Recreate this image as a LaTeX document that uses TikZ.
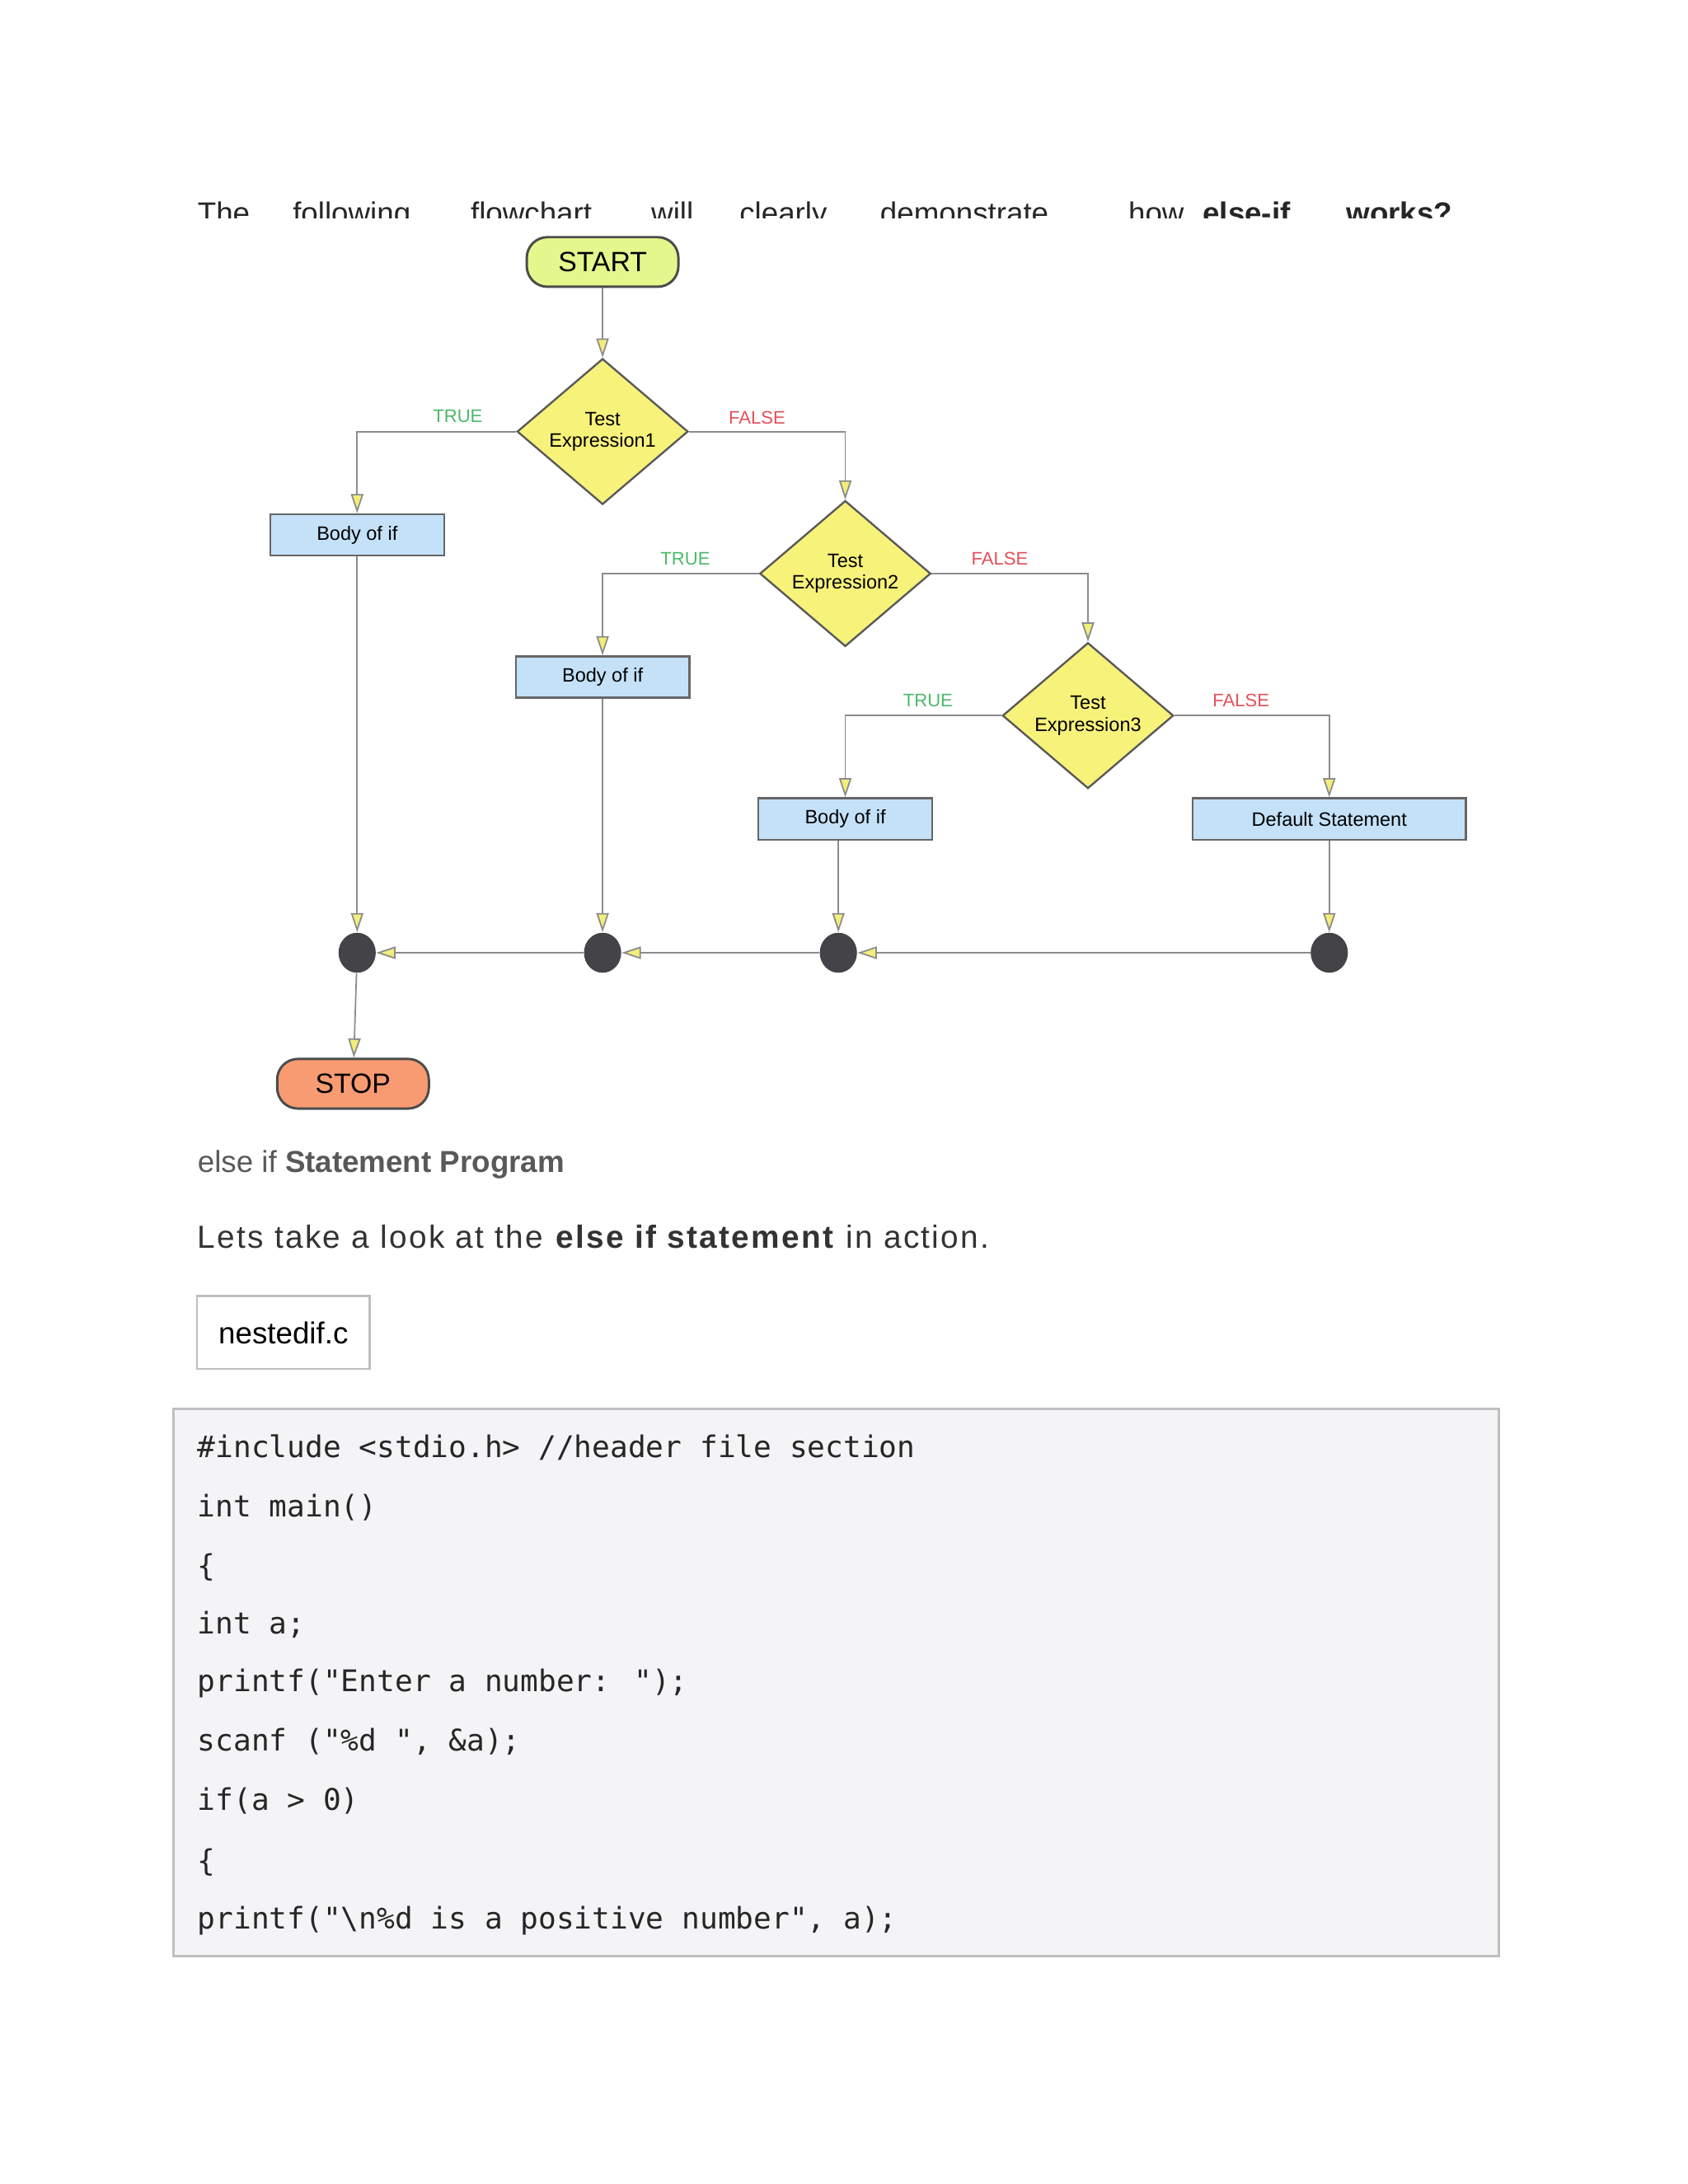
\documentclass[tikz,border=0pt]{standalone}
\usepackage{fontspec}
\setmainfont{Liberation Sans}
\newfontfamily\codefont{DejaVu Sans Mono}
\usetikzlibrary{shapes.geometric,arrows.meta}
\definecolor{arrY}{HTML}{F2EE7A}
\definecolor{lineG}{HTML}{8C8C8C}
\definecolor{startF}{HTML}{E4F78C}
\definecolor{diaF}{HTML}{F7F27A}
\definecolor{bodyF}{HTML}{C4E1F8}
\definecolor{stopF}{HTML}{F99B72}
\definecolor{dotF}{HTML}{444448}
\definecolor{trueC}{HTML}{4DB86A}
\definecolor{falseC}{HTML}{E2505A}
\definecolor{codeBg}{HTML}{F4F4F6}
\begin{document}
\begin{tikzpicture}[x=0.02cm,y=-0.02cm,
  conn/.style={draw=lineG,line width=0.6pt,-{Triangle[length=0.28cm,width=0.18cm,fill=arrY]}},
  term/.style={draw=black!70,line width=1pt,rounded corners=0.3cm,minimum width=2.2cm,minimum height=0.72cm,font=\fontsize{11.5}{12}\selectfont},
  dia/.style={diamond,draw=black!65,fill=diaF,line width=0.8pt,minimum width=2.48cm,minimum height=1.72cm,inner sep=0pt,align=center,font=\fontsize{8}{9}\selectfont},
  body/.style={draw=black!60,fill=bodyF,line width=0.8pt,minimum width=2.52cm,minimum height=0.6cm,inner sep=0pt,font=\fontsize{8}{9}\selectfont},
  dot/.style={ellipse,fill=dotF,minimum width=0.54cm,minimum height=0.58cm,inner sep=0pt},
  tl/.style={text=trueC,font=\fontsize{7.5}{8}\selectfont},
  fl/.style={text=falseC,font=\fontsize{7.5}{8}\selectfont},
  top/.style={anchor=base west,inner sep=0pt,font=\fontsize{12.5}{13}\selectfont,text=black!85},
  cl/.style={anchor=base west,inner sep=0pt,font=\codefont\fontsize{12.3}{13}\selectfont,text=black!85}]
\useasboundingbox (0,0) rectangle (1224,1584);
\fill[white] (0,0) rectangle (1224,1584);
% top clipped line
\begin{scope}
\clip (100,120) rectangle (1100,158);
\node[top] (w1) at (143,162) {The};
\node[top] (w2) at (212,162) {following};
\node[top] (w3) at (341,162) {flowchart};
\node[top] (w4) at (472,162) {will};
\node[top] (w5) at (536,162) {clearly};
\node[top] (w6) at (638,162) {demonstrate};
\node[top] (w7) at (818,162) {how};
\node[top,font=\fontsize{12.5}{13}\selectfont\bfseries] (w8) at (872,162) {else-if};
\node[top,font=\fontsize{12.5}{13}\selectfont\bfseries] (w9) at (976,162) {works?};
\end{scope}
% flowchart
\node[term,fill=startF] (start) at (437,190) {START};
\node[dia] (d1) at (437,313) {Test\\Expression1};
\node[dia] (d2) at (613,416) {Test\\Expression2};
\node[dia] (d3) at (789,519) {Test\\Expression3};
\node[body] (b1) at (259,388) {Body of if};
\node[body] (b2) at (437,491) {Body of if};
\node[body] (b3) at (613,594) {Body of if};
\node[body,minimum width=3.96cm] (b4) at (964,594) {Default Statement};
\node[dot] (p1) at (259,691) {};
\node[dot] (p2) at (437,691) {};
\node[dot] (p3) at (608,691) {};
\node[dot] (p4) at (964,691) {};
\node[term,fill=stopF] (stop) at (256,786) {STOP};
\node[tl] (t1) at (332,302) {TRUE};
\node[fl] (f1) at (549,303) {FALSE};
\node[tl] (t2) at (497,405) {TRUE};
\node[fl] (f2) at (725,405) {FALSE};
\node[tl] (t3) at (673,508) {TRUE};
\node[fl] (f3) at (900,508) {FALSE};
\draw[conn] (start) -- (d1);
\draw[conn] (d1.west) -| (b1.north);
\draw[conn] (d1.east) -| (d2.north);
\draw[conn] (d2.west) -| (b2.north);
\draw[conn] (d2.east) -| (d3.north);
\draw[conn] (d3.west) -| (b3.north);
\draw[conn] (d3.east) -| (b4.north);
\draw[conn] (b1) -- (p1);
\draw[conn] (b2) -- (p2);
\draw[conn] (b3.south -| p3) -- (p3);
\draw[conn] (b4) -- (p4);
\draw[conn] (p4) -- (p3);
\draw[conn] (p3) -- (p2);
\draw[conn] (p2) -- (p1);
\draw[conn] (p1) -- (stop);
% text below
\node[anchor=base west,inner sep=0pt,text=black!65,font=\fontsize{12.5}{13}\selectfont] (h1) at (143,850) {else if \textbf{Statement Program}};
\node[anchor=base west,inner sep=0pt,text=black!80,font=\fontsize{13.2}{14}\selectfont\addfontfeature{LetterSpace=6}] (h2) at (143,905) {Lets take a look at the \textbf{else if statement} in action.};
\node[draw=black!25,line width=0.8pt,minimum width=2.5cm,minimum height=1.06cm,inner sep=0pt,font=\fontsize{12.5}{13}\selectfont] (fn) at (205.5,966.5) {nestedif.c};
\node[draw=black!25,fill=codeBg,line width=1pt,minimum width=19.22cm,minimum height=7.94cm,inner sep=0pt] (cb) at (606.5,1220.5) {};
\node[cl] (c1) at (143,1057) {\#include <stdio.h> //header file section};
\node[cl] (c2) at (143,1100) {int main()};
\node[cl] (c3) at (143,1143) {\{};
\node[cl] (c4) at (143,1185) {int a;};
\node[cl] (c5) at (143,1227) {printf("Enter a number: ");};
\node[cl] (c6) at (143,1270) {scanf ("\%d ", \&a);};
\node[cl] (c7) at (143,1313) {if(a > 0)};
\node[cl] (c8) at (143,1357) {\{};
\node[cl] (c9) at (143,1399) {printf("\textbackslash n\%d is a positive number", a);};
\end{tikzpicture}
\end{document}
